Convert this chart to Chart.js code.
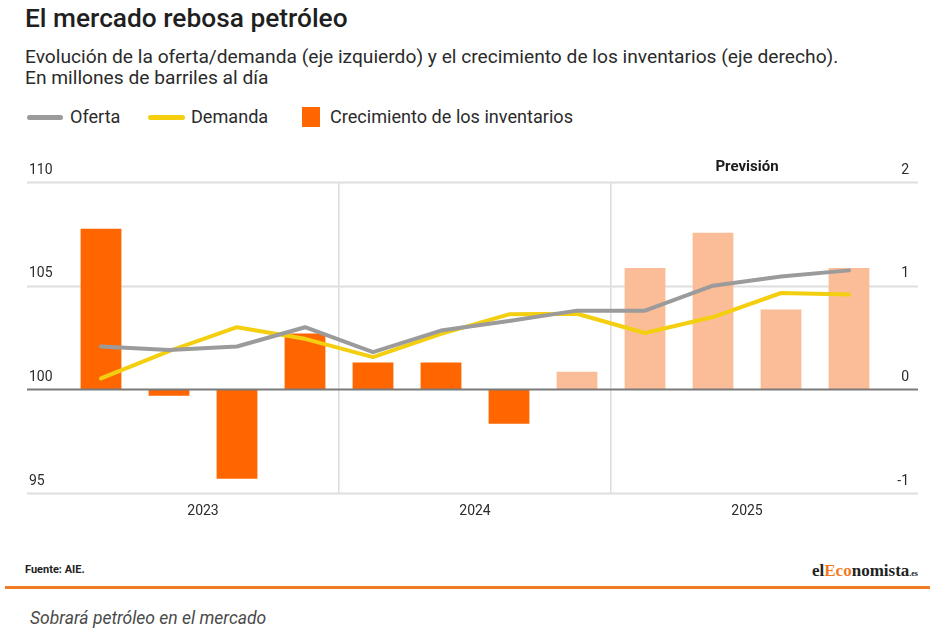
<!DOCTYPE html>
<html lang="es">
<head>
<meta charset="utf-8">
<script src="https://cdn.jsdelivr.net/npm/chart.js@4.4.1/dist/chart.umd.min.js"></script>
<style>
  html, body { margin: 0; padding: 0; background: #fff; }
  body { width: 946px; height: 637px; position: relative; overflow: hidden; font-family: Roboto, "Noto Sans", sans-serif; color: #222; }
  #title { position: absolute; left: 25px; top: 2px; font-size: 26.3px; line-height: 32px; font-weight: 500; color: #1f1f1f; white-space: nowrap; }
  #sub { position: absolute; left: 25px; top: 46px; font-size: 19.2px; line-height: 21px; color: #2b2b2b; white-space: nowrap; }
  #legend { position: absolute; left: 27px; top: 106px; height: 22px; font-size: 18.1px; color: #2b2b2b; white-space: nowrap; }
  .lg { position: absolute; top: 0; line-height: 22px; }
  .sw { position: absolute; }
  #chartBox { position: absolute; left: 0; top: 140px; width: 946px; height: 400px; }
  #source { position: absolute; left: 25px; top: 563px; font-size: 11px; font-weight: 700; color: #222; }
  #logo { position: absolute; left: 812px; top: 561px; font-family: "Liberation Serif", "DejaVu Serif", serif; font-weight: 700; font-size: 17px; color: #222; white-space: nowrap; }
  #logo .o { color: #f07d26; }
  #logo .es { font-size: 8px; }
  #rule { position: absolute; left: 5px; top: 586px; width: 925px; height: 3px; background: #f07d26; }
  #caption { position: absolute; left: 30px; top: 608px; font-size: 17.5px; font-style: italic; color: #4a4a4a; }
</style>
</head>
<body>
<div id="title">El mercado rebosa petróleo</div>
<div id="sub">Evolución de la oferta/demanda (eje izquierdo) y el crecimiento de los inventarios (eje derecho).<br>En millones de barriles al día</div>
<div id="legend">
  <div class="sw" style="left:0;top:9px;width:36px;height:5px;border-radius:3px;background:#9b9b9b"></div>
  <div class="lg" style="left:43px">Oferta</div>
  <div class="sw" style="left:121px;top:9px;width:37px;height:5px;border-radius:3px;background:#f3cf0f"></div>
  <div class="lg" style="left:164px">Demanda</div>
  <div class="sw" style="left:275px;top:1px;width:18px;height:20px;background:#ff6600"></div>
  <div class="lg" style="left:303px">Crecimiento de los inventarios</div>
</div>
<div id="chartBox"><canvas id="c" width="946" height="400"></canvas></div>
<div id="source">Fuente: AIE.</div>
<div id="logo">el<span class="o">Eco</span>nomista<span class="es">.es</span></div>
<div id="rule"></div>
<div id="caption">Sobrará petróleo en el mercado</div>

<script>
// ---- Data ----
const quarters = ['T1 2023','T2 2023','T3 2023','T4 2023','T1 2024','T2 2024','T3 2024','T4 2024','T1 2025','T2 2025','T3 2025','T4 2025'];
const yearLabels = ['2023', '2024', '2025'];
const oferta = [102.07, 101.9, 102.07, 103.0, 101.8, 102.84, 103.3, 103.8, 103.8, 105.0, 105.45, 105.74];
const demanda = [100.53, 101.85, 103.0, 102.44, 101.56, 102.68, 103.62, 103.65, 102.72, 103.49, 104.65, 104.58];
const inventarios = [1.55, -0.06, -0.86, 0.54, 0.26, 0.26, -0.33, 0.17, 1.17, 1.51, 0.77, 1.17];
const esPrevision = [false, false, false, false, false, false, false, true, true, true, true, true];
const leftTicks = [95, 100, 105, 110];
const rightTicks = [-1, 0, 1, 2];
const previsionLabel = 'Previsión';

const COLOR_REAL = '#ff6600';
const COLOR_PREV = '#fbbc98';

const gridPlugin = {
  id: 'extGrid',
  beforeDatasetsDraw(chart) {
    const { ctx, chartArea, scales } = chart;
    const x0 = chartArea.left - 40, x1 = chartArea.right + 35;
    ctx.save();
    leftTicks.forEach(v => {
      if (v === 100) return;
      const py = Math.round(scales.y.getPixelForValue(v)) + 0.5;
      ctx.strokeStyle = '#dedede';
      ctx.lineWidth = 2;
      ctx.beginPath(); ctx.moveTo(x0, py); ctx.lineTo(x1, py); ctx.stroke();
    });
    ctx.restore();
  },
  afterDatasetsDraw(chart) {
    const { ctx, chartArea, scales } = chart;
    const x0 = chartArea.left - 40, x1 = chartArea.right + 35;
    ctx.save();
    const py = scales.y.getPixelForValue(100);
    ctx.strokeStyle = '#7a7a7a';
    ctx.lineWidth = 2;
    ctx.beginPath(); ctx.moveTo(x0, py); ctx.lineTo(x1, py); ctx.stroke();
    // right-axis tick labels, right-aligned above their gridlines
    ctx.font = '14px Roboto, "Noto Sans", sans-serif';
    ctx.fillStyle = '#2b2b2b';
    ctx.textAlign = 'right';
    ctx.textBaseline = 'middle';
    rightTicks.forEach(v => {
      ctx.fillText(String(v), chartArea.right + 26, scales.y1.getPixelForValue(v) - 12);
    });
    // "Previsión" header, centred over the forecast year
    const xs = scales.x;
    const cx = (xs.getPixelForValue(9) + xs.getPixelForValue(10)) / 2;
    ctx.font = '700 15px Roboto, "Noto Sans", sans-serif';
    ctx.fillStyle = '#1a1a1a';
    ctx.textAlign = 'center';
    ctx.fillText(previsionLabel, cx, chartArea.top - 15);
    ctx.restore();
  }
};

new Chart(document.getElementById('c'), {
  data: {
    labels: quarters,
    datasets: [
      {
        type: 'line', label: 'Oferta', data: oferta, yAxisID: 'y', order: 0,
        borderColor: '#9b9b9b', borderWidth: 4, pointRadius: 0, tension: 0,
        borderJoinStyle: 'round', borderCapStyle: 'round'
      },
      {
        type: 'line', label: 'Demanda', data: demanda, yAxisID: 'y', order: 1,
        borderColor: '#f3cf0f', borderWidth: 4, pointRadius: 0, tension: 0,
        borderJoinStyle: 'round', borderCapStyle: 'round'
      },
      {
        type: 'bar', label: 'Crecimiento de los inventarios', data: inventarios, yAxisID: 'y1', order: 2,
        backgroundColor: esPrevision.map(p => p ? COLOR_PREV : COLOR_REAL),
        barPercentage: 0.6, categoryPercentage: 1.0, borderWidth: 0
      }
    ]
  },
  options: {
    responsive: false,
    animation: false,
    devicePixelRatio: 1,
    layout: { padding: { left: 29, right: 37, top: 42, bottom: 10 } },
    plugins: { legend: { display: false }, tooltip: { enabled: false } },
    scales: {
      x: {
        type: 'category',
        offset: true,
        grid: {
          offset: true, drawTicks: false, lineWidth: 1.5,
          color: c => (c.index === 4 || c.index === 8) ? '#dcdcdc' : 'rgba(0,0,0,0)'
        },
        border: { display: false },
        ticks: {
          autoSkip: false, maxRotation: 0, minRotation: 0, labelOffset: 34, padding: 10,
          font: { family: 'Roboto', size: 14 }, color: '#2b2b2b',
          callback: (v, i) => (i % 4 === 1) ? yearLabels[Math.floor(i / 4)] : ''
        }
      },
      y: {
        type: 'linear', position: 'left', min: 95, max: 110,
        afterBuildTicks: s => { s.ticks = leftTicks.map(v => ({ value: v })); },
        afterFit: s => { s.width = 38; },
        grid: { display: false }, border: { display: false },
        ticks: { crossAlign: 'far', labelOffset: -12, padding: 0, font: { family: 'Roboto', size: 14 }, color: '#2b2b2b' }
      },
      y1: {
        type: 'linear', position: 'right', min: -1, max: 2,
        afterBuildTicks: s => { s.ticks = rightTicks.map(v => ({ value: v })); },
        afterFit: s => { s.width = 26; },
        grid: { display: false }, border: { display: false },
        ticks: { display: false }
      }
    }
  },
  plugins: [gridPlugin]
});
</script>
</body>
</html>
